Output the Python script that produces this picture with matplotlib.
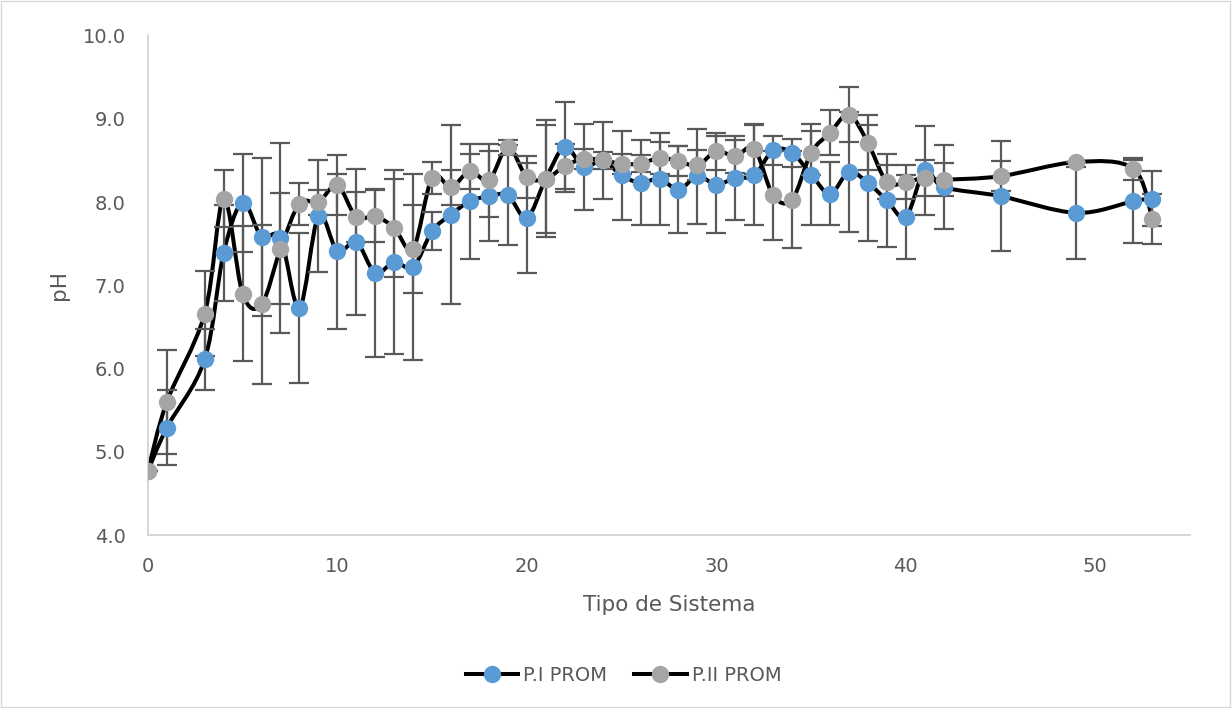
import matplotlib
matplotlib.use("Agg")
import matplotlib.pyplot as plt
from matplotlib.path import Path
from matplotlib.patches import PathPatch, Rectangle
from matplotlib.lines import Line2D

# sampling points (x axis) and mean pH for both series, with their deviations
dias = [0, 1, 3, 4, 5, 6, 7, 8, 9, 10, 11, 12, 13, 14, 15, 16, 17, 18, 19, 20,
        21, 22, 23, 24, 25, 26, 27, 28, 29, 30, 31, 32, 33, 34, 35, 36, 37, 38,
        39, 40, 41, 42, 45, 49, 52, 53]

p1_prom = [4.77, 5.29, 6.11, 7.39, 7.99, 7.58, 7.57, 6.73, 7.83, 7.41, 7.52, 7.15,
           7.28, 7.22, 7.65, 7.85, 8.01, 8.07, 8.08, 7.81, 8.28, 8.66, 8.42, 8.50,
           8.32, 8.23, 8.28, 8.15, 8.31, 8.21, 8.29, 8.32, 8.62, 8.59, 8.33, 8.10,
           8.36, 8.23, 8.02, 7.82, 8.38, 8.18, 8.07, 7.87, 8.01, 8.04]
p1_err = [0.0, 0.45, 0.37, 0.58, 0.59, 0.95, 1.14, 0.90, 0.67, 0.93, 0.88, 1.01,
          1.10, 1.12, 0.23, 1.08, 0.69, 0.54, 0.60, 0.66, 0.70, 0.54, 0.52, 0.46,
          0.53, 0.51, 0.55, 0.52, 0.57, 0.58, 0.50, 0.60, 0.17, 0.17, 0.61, 0.38,
          0.72, 0.70, 0.56, 0.50, 0.53, 0.50, 0.66, 0.55, 0.50, 0.33]

p2_prom = [4.77, 5.60, 6.66, 8.04, 6.90, 6.77, 7.44, 7.98, 8.00, 8.20, 7.82, 7.83,
           7.69, 7.44, 8.29, 8.18, 8.37, 8.26, 8.66, 8.30, 8.28, 8.43, 8.52, 8.50,
           8.46, 8.46, 8.53, 8.49, 8.44, 8.61, 8.55, 8.64, 8.08, 8.03, 8.59, 8.83,
           9.05, 8.71, 8.24, 8.24, 8.29, 8.27, 8.31, 8.48, 8.40, 7.80]
p2_err = [0.0, 0.62, 0.51, 0.34, 0.81, 0.96, 0.67, 0.25, 0.15, 0.36, 0.30, 0.31,
          0.59, 0.53, 0.19, 0.21, 0.21, 0.44, 0.09, 0.25, 0.65, 0.27, 0.12, 0.10,
          0.12, 0.10, 0.19, 0.18, 0.18, 0.22, 0.20, 0.30, 0.53, 0.58, 0.26, 0.27,
          0.33, 0.33, 0.20, 0.20, 0.22, 0.20, 0.18, 0.00, 0.13, 0.30]

FONT = ["DejaVu Sans"]
TXT = "#595959"
plt.rcParams["font.family"] = FONT


def smooth_path(xs, ys):
    # Excel-like smoothed line: Catmull-Rom segments as cubic Bezier curves
    pts = list(zip(xs, ys))
    verts = [pts[0]]
    codes = [Path.MOVETO]
    n = len(pts)
    for i in range(n - 1):
        p0 = pts[i - 1] if i > 0 else pts[i]
        p1 = pts[i]
        p2 = pts[i + 1]
        p3 = pts[i + 2] if i + 2 < n else pts[i + 1]
        c1 = (p1[0] + (p2[0] - p0[0]) / 6, p1[1] + (p2[1] - p0[1]) / 6)
        c2 = (p2[0] - (p3[0] - p1[0]) / 6, p2[1] - (p3[1] - p1[1]) / 6)
        verts += [c1, c2, p2]
        codes += [Path.CURVE4] * 3
    return Path(verts, codes)


fig = plt.figure(figsize=(12.32, 7.08), dpi=100)
ax = fig.add_axes([0.120, 0.244, 0.846, 0.706])

series = [
    ("P.I PROM", p1_prom, p1_err, "#5B9BD5"),
    ("P.II PROM", p2_prom, p2_err, "#A5A5A5"),
]

handles = []
for k, (name, vals, err, color) in enumerate(series):
    ax.add_patch(PathPatch(smooth_path(dias, vals), facecolor="none",
                           edgecolor="black", lw=2.9, zorder=2,
                           capstyle="round", joinstyle="round"))
    ax.errorbar(dias, vals, yerr=err, fmt="none", ecolor="#595959",
                elinewidth=1.6, capsize=7.5, capthick=1.6, zorder=3)
    ax.plot(dias, vals, linestyle="none", marker="o", markersize=12.5,
            markerfacecolor=color, markeredgewidth=0, zorder=4 + k)
    handles.append(Line2D([], [], color="black", lw=2.9, marker="o",
                          markersize=12.5, markerfacecolor=color,
                          markeredgewidth=0, label=name))

ax.set_xlim(0, 55)
ax.set_ylim(4, 10)
ax.set_xticks(range(0, 51, 10))
ax.set_yticks([4, 5, 6, 7, 8, 9, 10])
ax.set_yticklabels([f"{v:.1f}" for v in [4, 5, 6, 7, 8, 9, 10]])

for side in ["top", "right"]:
    ax.spines[side].set_visible(False)
for side in ["left", "bottom"]:
    ax.spines[side].set_color("#D0D0D0")
    ax.spines[side].set_linewidth(1.2)
ax.tick_params(axis="both", which="both", length=0, width=0,
               labelsize=14, labelcolor=TXT)
ax.tick_params(axis="x", pad=16)
ax.tick_params(axis="y", pad=16)

ax.set_xlabel("Tipo de Sistema", fontsize=15.5, color=TXT)
ax.set_ylabel("pH", fontsize=15.5, color=TXT)
ax.xaxis.set_label_coords(0.5, -0.12)
ax.yaxis.set_label_coords(-0.085, 0.5)
ax.yaxis.label.set_va("center")

fig.legend(handles=handles, loc="center", bbox_to_anchor=(0.506, 0.046),
           ncol=2, frameon=False, fontsize=14, labelcolor=TXT,
           handlelength=2.7, columnspacing=1.4, handletextpad=0.25)

fig.patches.append(Rectangle((0.001, 0.001), 0.997, 0.997,
                             transform=fig.transFigure, fill=False,
                             edgecolor="#D9D9D9", lw=1))

fig.savefig("out.png", dpi=100)
plt.close(fig)
